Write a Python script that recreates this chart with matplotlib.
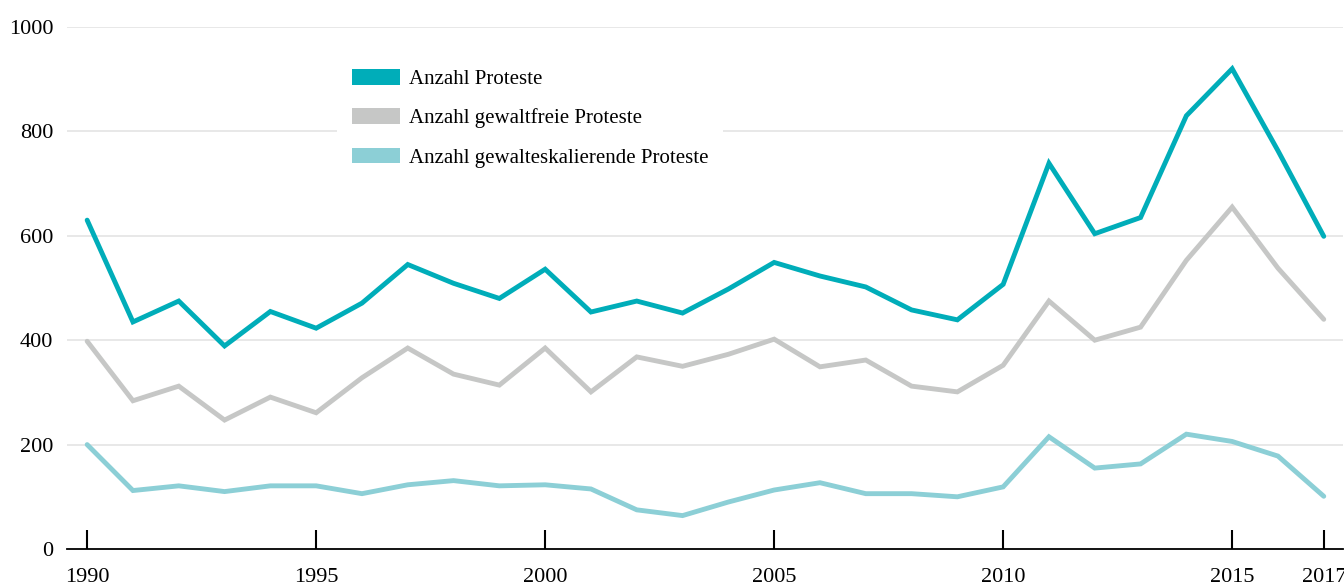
import matplotlib
matplotlib.use("Agg")
import matplotlib.pyplot as plt
from matplotlib.patches import Patch

years = list(range(1990, 2018))
proteste = [630, 435, 475, 389, 455, 423, 471, 545, 509, 480,
            536, 454, 475, 452, 498, 549, 523, 502, 458, 439,
            507, 739, 604, 635, 830, 920, 763, 599]
gewaltfrei = [398, 284, 312, 247, 291, 261, 328, 385, 335, 314,
              385, 301, 368, 350, 373, 402, 349, 362, 312, 301,
              352, 475, 400, 425, 553, 655, 538, 440]
eskalierend = [200, 112, 121, 110, 121, 121, 106, 123, 131, 121,
               123, 115, 75, 64, 90, 113, 127, 106, 106, 100,
               119, 215, 155, 163, 220, 206, 178, 101]

labels = ["Anzahl Proteste", "Anzahl gewaltfreie Proteste",
          "Anzahl gewalteskalierende Proteste"]
colors = ["#00adb9", "#c6c7c6", "#8ccfd6"]
x_ticks = [1990, 1995, 2000, 2005, 2010, 2015, 2017]
y_ticks = [0, 200, 400, 600, 800, 1000]

plt.rcParams['font.family'] = ['Liberation Serif', 'DejaVu Serif']

fig = plt.figure(figsize=(13.44, 5.85), dpi=100)
ax = fig.add_axes([67/1344, 36/585, 1276/1344, 522/585])

for vals, c in zip([proteste, gewaltfrei, eskalierend], colors):
    ax.plot(years, vals, color=c, lw=3.5, solid_joinstyle='miter',
            solid_capstyle='round', clip_on=False, zorder=3)

ax.set_xlim(1989.56, 2017.42)
ax.set_ylim(0, 1000)
ax.set_xticks(x_ticks)
ax.set_yticks(y_ticks)
ax.tick_params(axis='x', direction='in', length=14, width=1.5, pad=14,
               labelsize=16, color='black')
ax.tick_params(axis='y', length=0, pad=10, labelsize=16)
for s in ['top', 'right', 'left']:
    ax.spines[s].set_visible(False)
ax.spines['bottom'].set_linewidth(1.3)
ax.spines['bottom'].set_zorder(4)

for v in y_ticks[1:]:
    ax.axhline(v, color='#e6e6e6', lw=1.3, zorder=1)

handles = [Patch(facecolor=c, edgecolor='none') for c in colors]
leg = ax.legend(handles, labels, loc='upper left',
                bbox_to_anchor=(0.2116, 0.948), fontsize=15,
                handlelength=2.3, handleheight=0.77, handletextpad=0.43,
                labelspacing=0.92, borderpad=0.72, borderaxespad=0,
                frameon=True, fancybox=False, framealpha=1)
leg.get_frame().set_facecolor('white')
leg.get_frame().set_edgecolor('none')
leg.set_zorder(2)

fig.savefig("out.png", dpi=100, facecolor='white')
